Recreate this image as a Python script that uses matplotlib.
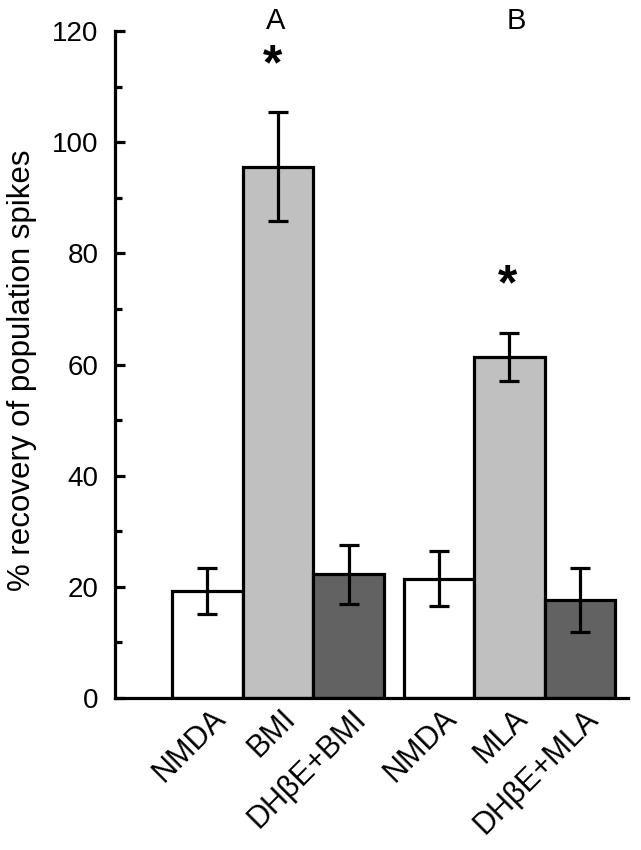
import numpy as np
import matplotlib
matplotlib.use("Agg")
import matplotlib.pyplot as plt
from matplotlib.ticker import MultipleLocator
from matplotlib.transforms import ScaledTranslation

plt.rcParams['font.family'] = ['Liberation Sans', 'DejaVu Sans']

# Data
labels = ["NMDA", "BMI", "DH\u03b2E+BMI", "NMDA", "MLA", "DH\u03b2E+MLA"]
means = [19.3, 95.6, 22.3, 21.5, 61.3, 17.6]
errors = [4.1, 9.8, 5.3, 4.9, 4.3, 5.8]
colors = ["#ffffff", "#c0c0c0", "#626262", "#ffffff", "#c0c0c0", "#626262"]
positions = [0, 1, 2, 3.28, 4.28, 5.28]

fig = plt.figure(figsize=(6.41, 8.5), dpi=100)
ax = fig.add_axes([0.1794, 0.1788, 0.8003, 0.7847])

ax.bar(positions, means, width=1.0, color=colors, edgecolor="black",
       linewidth=2.3, zorder=2)
ax.errorbar(positions, means, yerr=errors, fmt="none", ecolor="black",
            elinewidth=2.3, capsize=7.5, capthick=2.3, zorder=3)

ax.set_xlim(-1.31, 5.96)
ax.set_ylim(0, 120)

ax.spines['top'].set_visible(False)
ax.spines['right'].set_visible(False)
ax.spines['left'].set_linewidth(2.3)
ax.spines['bottom'].set_linewidth(2.3)

ax.yaxis.set_major_locator(MultipleLocator(20))
ax.yaxis.set_minor_locator(MultipleLocator(10))
ax.tick_params(axis='y', which='major', direction='in', length=7, width=2.3,
               labelsize=20, pad=12)
ax.tick_params(axis='y', which='minor', direction='in', length=5, width=2.3)

ax.set_xticks(positions)
ax.set_xticklabels(labels, rotation=45, ha='right', va='top',
                   rotation_mode='anchor', fontsize=22)
ax.tick_params(axis='x', length=0, pad=4)
shift = ScaledTranslation(3 / 100, 0, fig.dpi_scale_trans)
for lab in ax.get_xticklabels():
    lab.set_transform(lab.get_transform() + shift)

ax.set_ylabel("% recovery of population spikes", fontsize=22.5)
ax.yaxis.set_label_coords(-0.152, 0.492)

# group labels and significance marks
ax.text(0.96, 121.8, "A", ha='center', va='center', fontsize=21, clip_on=False)
ax.text(4.38, 121.8, "B", ha='center', va='center', fontsize=21, clip_on=False)
ax.text(0.93, 113.6, "*", ha='center', va='center', fontsize=36,
        fontweight='bold', clip_on=False)
ax.text(4.25, 74.0, "*", ha='center', va='center', fontsize=36,
        fontweight='bold', clip_on=False)

fig.savefig("out.png", dpi=100)
